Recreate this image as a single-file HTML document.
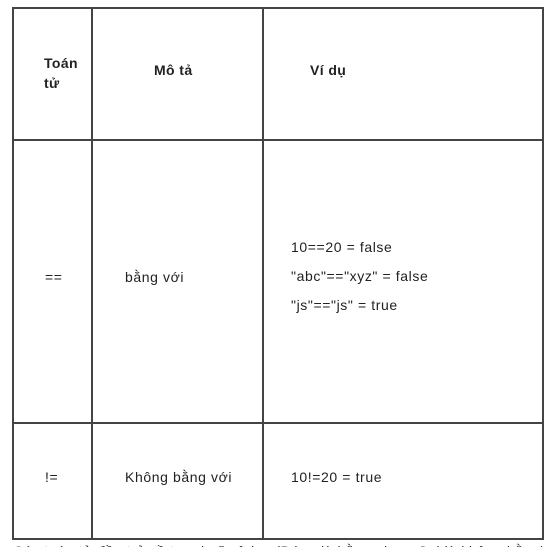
<!DOCTYPE html>
<html><head><meta charset="utf-8"><style>
html,body{margin:0;padding:0;width:559px;height:547px;overflow:hidden;background:#fff;}
body{position:relative;font-family:"Liberation Sans","DejaVu Sans",sans-serif;font-size:14px;color:#222;}
.l{position:absolute;background:#444;}
.t{position:absolute;white-space:nowrap;line-height:16px;letter-spacing:0.6px;}
.b{font-weight:bold;letter-spacing:0.4px;}
</style></head><body>
<div>
<div class="l" style="left:12px;top:7px;width:532px;height:2px"></div>
<div class="l" style="left:12px;top:538px;width:532px;height:2px"></div>
<div class="l" style="left:12px;top:7px;width:2px;height:533px"></div>
<div class="l" style="left:542px;top:7px;width:2px;height:533px"></div>
<div class="l" style="left:91px;top:7px;width:2px;height:533px"></div>
<div class="l" style="left:262px;top:7px;width:2px;height:533px"></div>
<div class="l" style="left:12px;top:139px;width:532px;height:2px"></div>
<div class="l" style="left:12px;top:422px;width:532px;height:2px"></div>

<div class="t b" style="left:44px;top:53px;line-height:20px">Toán<br>tử</div>
<div class="t b" style="left:154px;top:62px">Mô tả</div>
<div class="t b" style="left:310px;top:62px">Ví dụ</div>

<div class="t" style="left:45px;top:269px">==</div>
<div class="t" style="left:125px;top:269px">bằng với</div>
<div class="t" style="left:291px;top:239px">10==20 = false</div>
<div class="t" style="left:291px;top:268px">"abc"=="xyz" = false</div>
<div class="t" style="left:291px;top:297px">"js"=="js" = true</div>

<div class="t" style="left:45px;top:469px">!=</div>
<div class="t" style="left:125px;top:469px">Không bằng với</div>
<div class="t" style="left:291px;top:469px">10!=20 = true</div>
</div>
<div class="t" style="left:13px;top:543px;color:#333">Các toán tử đều trả về true hoặc false (Đúng là bằng nhau, Sai là không bằng)</div>
</body></html>
